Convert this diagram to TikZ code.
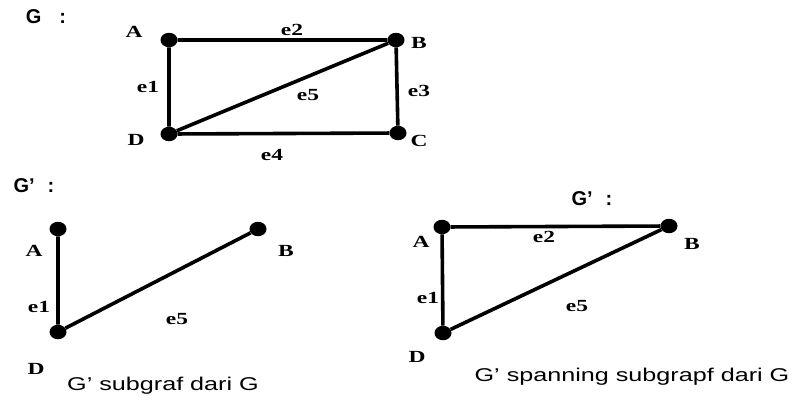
\documentclass[tikz,border=0pt]{standalone}
\usepackage{fontspec}
\setmainfont{Liberation Serif}[FakeStretch=1.38]
\newfontfamily\arialfont{Liberation Sans}
\newfontfamily\widearial{Liberation Sans}[FakeStretch=1.36]
\usetikzlibrary{positioning,shapes.geometric}

\begin{document}
\begin{tikzpicture}[x=1pt,y=-1pt,
  vtx/.style={ellipse,fill=black,inner sep=0pt,minimum width=17pt,minimum height=14.5pt},
  lbl/.style={font=\fontsize{17}{17}\selectfont\bfseries,inner sep=0pt},
  edge/.style={line width=3.6pt},
  ttl/.style={font=\arialfont\fontsize{20}{20}\selectfont\bfseries,inner sep=0pt},
  captxt/.style={font=\widearial\fontsize{18.5}{18.5}\selectfont,inner sep=0pt}]
\useasboundingbox (0,0) rectangle (796,400);
% graph G
\node[ttl] (tG) at (46,17) {G\hspace{18pt}:};
\foreach \n/\x/\y in {A/169/40,B/396/40,C/398/133,D/169/134}
  \node[vtx] (g\n) at (\x,\y) {};
\draw[edge] (gA) -- (gB) -- (gC) -- (gD) -- (gA) (gD) -- (gB);
\foreach \n/\t/\x/\y in {la/A/134/32,lb/B/419/43,lc/C/419/141,ld/D/136/140,
  e1/e1/148/87,e2/e2/292/30,e3/e3/419/91,e4/e4/272/155,e5/e5/308/95}
  \node[lbl] (g\n) at (\x,\y) {\t};
% subgraph
\node[ttl] (tS) at (34,186) {G’\hspace{13pt}:};
\foreach \n/\x/\y in {A/58/229,B/258/229,D/58/332}
  \node[vtx] (s\n) at (\x,\y) {};
\draw[edge] (sA) -- (sD) -- (sB);
\foreach \n/\t/\x/\y in {la/A/34/251,lb/B/286/251,ld/D/36/369,e1/e1/39/307,e5/e5/177/319}
  \node[lbl] (s\n) at (\x,\y) {\t};
\node[captxt] (cS) at (163,386) {G’ subgraf dari G};
% spanning subgraph
\node[ttl] (tP) at (592,199) {G’\hspace{13pt}:};
\foreach \n/\x/\y in {A/442/227,B/669/226,D/443/333}
  \node[vtx] (p\n) at (\x,\y) {};
\draw[edge] (pD) -- (pA) -- (pB) -- (pD);
\foreach \n/\t/\x/\y in {la/A/421/242,lb/B/692/244,ld/D/417/357,e1/e1/428/298,
  e2/e2/544/237,e5/e5/577/306}
  \node[lbl] (p\n) at (\x,\y) {\t};
\node[captxt] (cP) at (632,377) {G’ spanning subgrapf dari G};
\end{tikzpicture}
\end{document}
